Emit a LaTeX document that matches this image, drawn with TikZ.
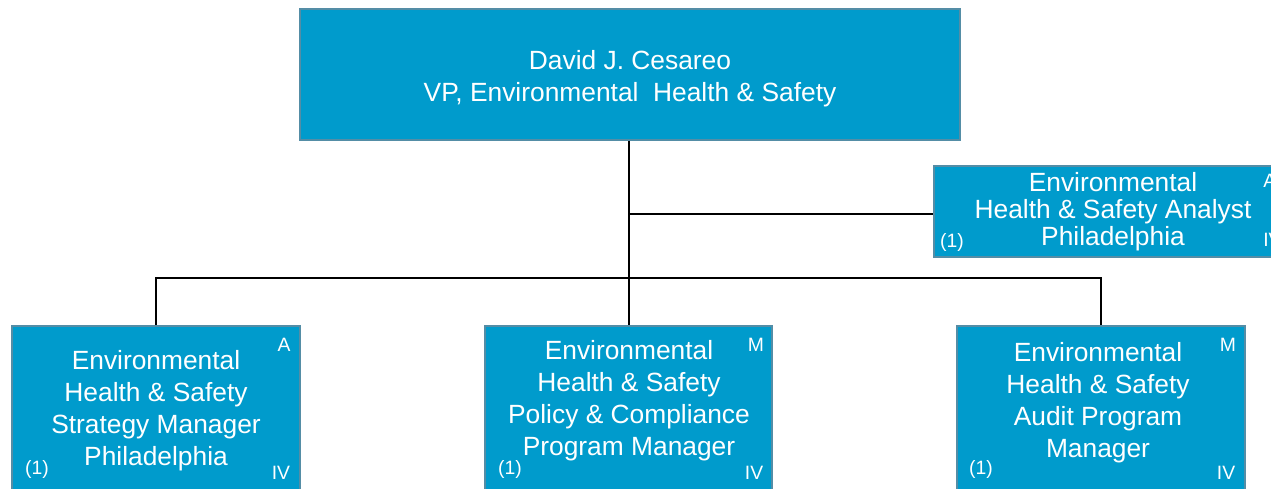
\documentclass[tikz,border=0pt]{standalone}
\usepackage{fontspec}
\setmainfont{Liberation Sans}
\usepackage{xcolor}
\usetikzlibrary{positioning}
\definecolor{ehsblue}{RGB}{0, 155, 204}
\definecolor{ehsedge}{RGB}{84, 141, 166}

\begin{document}
\begin{tikzpicture}[x=0.02cm, y=-0.02cm,
    box/.style={rectangle, draw=ehsedge, line width=1pt, fill=ehsblue,
                text=white, align=center, inner sep=0pt,
                font=\fontsize{15}{18.2}\selectfont},
    title/.style={text=white, align=center, font=\fontsize{15}{18.2}\selectfont},
    tag/.style={text=white, inner sep=0pt, font=\fontsize{11}{13}\selectfont},
    link/.style={draw=black, line width=1pt}]
    \useasboundingbox (0,0) rectangle (1271,488);

    % VP
    \node[box, minimum width=13.2cm, minimum height=2.62cm] (vp) at (630, 74.5) {};
    \node[title] at (630, 79) {David J. Cesareo\\VP, Environmental\ \ Health \& Safety};

    % Analyst
    \node[box, minimum width=7.16cm, minimum height=1.82cm,
          font=\fontsize{15}{15.4}\selectfont] (analyst) at (1113, 211.5)
        {Environmental\\Health \& Safety Analyst\\Philadelphia};
    \node[tag, anchor=west] at (1263, 181) {A};
    \node[tag] at (952, 242) {(1)};
    \node[tag, anchor=west] at (1263, 240) {IV};

    % Managers
    \node[box, minimum width=5.76cm, minimum height=3.48cm] (strategy) at (156, 413) {};
    \node[box, minimum width=5.74cm, minimum height=3.48cm] (policy) at (628.5, 413) {};
    \node[box, minimum width=5.76cm, minimum height=3.48cm] (audit) at (1101, 413) {};

    \node[title] at (156, 411) {Environmental\\Health \& Safety\\Strategy Manager\\Philadelphia};
    \node[title] at (629, 401) {Environmental\\Health \& Safety\\Policy \& Compliance\\Program Manager};
    \node[title] at (1098, 403) {Environmental\\Health \& Safety\\Audit Program\\Manager};

    % Grades
    \node[tag] at (284, 345) {A};
    \node[tag] at (37, 469) {(1)};
    \node[tag] at (281, 473) {IV};
    \node[tag] at (756, 345) {M};
    \node[tag] at (510, 469) {(1)};
    \node[tag] at (754, 473) {IV};
    \node[tag] at (1228, 345) {M};
    \node[tag] at (981, 469) {(1)};
    \node[tag] at (1226, 473) {IV};

    % Lines
    \coordinate (tap) at (629, 214);
    \coordinate (split) at (629, 278);
    \draw[link] (vp.south -| split) -- (split);
    \draw[link] (tap) -- (analyst.west |- tap);
    \draw[link] (strategy.north) |- (split) -| (audit.north);
    \draw[link] (split) -- (policy.north -| split);
\end{tikzpicture}
\end{document}
